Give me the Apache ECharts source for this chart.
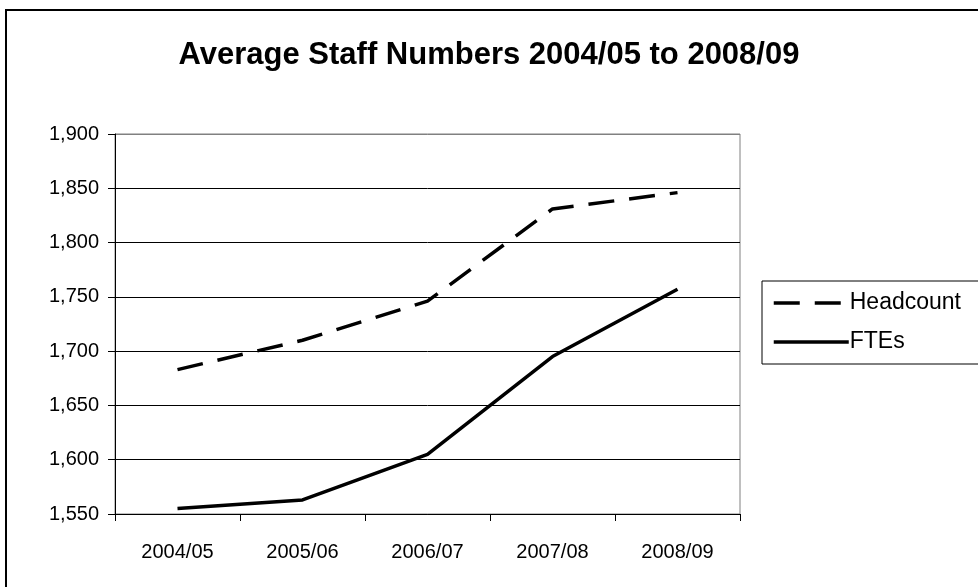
<!DOCTYPE html>
<html>
<head>
<meta charset="utf-8">
<script src="https://cdn.jsdelivr.net/npm/echarts@6/dist/echarts.min.js"></script>
<style>
  html, body { margin: 0; padding: 0; background: #fff; }
  #chart { width: 978px; height: 587px; }
</style>
</head>
<body>
<div id="chart"></div>
<script>
// Financial years on the category axis
const years = ['2004/05', '2005/06', '2006/07', '2007/08', '2008/09'];

// Average staff counts per year
const headcount = [1683, 1710, 1746, 1831, 1846];
const ftes = [1555, 1563, 1605, 1695, 1757];

// Value axis range
const yMin = 1550;
const yMax = 1900;
const yStep = 50;

const FONT = '"Liberation Sans", Arial, sans-serif';

const chart = echarts.init(document.getElementById('chart'), null, { renderer: 'canvas' });

chart.setOption({
  animation: false,
  backgroundColor: '#fff',
  title: {
    text: 'Average Staff Numbers 2004/05 to 2008/09',
    left: 'center',
    top: 35,
    textStyle: { fontFamily: FONT, fontSize: 31, fontWeight: 'bold', color: '#000' }
  },
  graphic: [{
    type: 'rect',
    shape: { x: 6, y: 10, width: 1000, height: 620 },
    style: { fill: 'none', stroke: '#000', lineWidth: 2 },
    silent: true
  }],
  legend: {
    orient: 'vertical',
    left: 762,
    top: 281,
    padding: [10, 30, 10, 10],
    itemGap: 15,
    itemWidth: 75,
    itemHeight: 14,
    borderColor: '#000',
    borderWidth: 1,
    backgroundColor: '#fff',
    itemStyle: { opacity: 0 },
    lineStyle: { width: 3.5 },
    textStyle: { fontFamily: FONT, fontSize: 23, color: '#000', lineHeight: 24, padding: [0, 0, 0, -4] },
    data: ['Headcount', 'FTEs']
  },
  grid: {
    left: 115,
    right: 238,
    top: 134,
    bottom: 73,
    show: true,
    borderColor: '#808080',
    borderWidth: 1
  },
  xAxis: {
    type: 'category',
    data: years,
    boundaryGap: true,
    axisLine: { lineStyle: { color: '#000', width: 1 } },
    axisTick: { show: true, length: 7, inside: false, alignWithLabel: false, lineStyle: { color: '#000' } },
    axisLabel: { fontFamily: FONT, fontSize: 20, color: '#000', margin: 28 },
    splitLine: { show: false }
  },
  yAxis: {
    type: 'value',
    min: yMin,
    max: yMax,
    interval: yStep,
    axisLine: { show: true, lineStyle: { color: '#000', width: 1 } },
    axisTick: { show: true, length: 7, inside: false, lineStyle: { color: '#000' } },
    axisLabel: {
      fontFamily: FONT, fontSize: 20, color: '#000', margin: 16,
      formatter: v => v.toLocaleString('en-US')
    },
    splitLine: {
      show: true,
      lineStyle: { color: ['#000', '#000', '#000', '#000', '#000', '#000', '#000', '#808080'], width: 1 }
    }
  },
  series: [
    {
      name: 'Headcount',
      type: 'line',
      data: headcount,
      symbol: 'none',
      showSymbol: false,
      color: '#000',
      lineStyle: { color: '#000', width: 3.5, type: [26, 15] }
    },
    {
      name: 'FTEs',
      type: 'line',
      data: ftes,
      symbol: 'none',
      showSymbol: false,
      color: '#000',
      lineStyle: { color: '#000', width: 3.5, type: 'solid' }
    }
  ]
});
</script>
</body>
</html>
